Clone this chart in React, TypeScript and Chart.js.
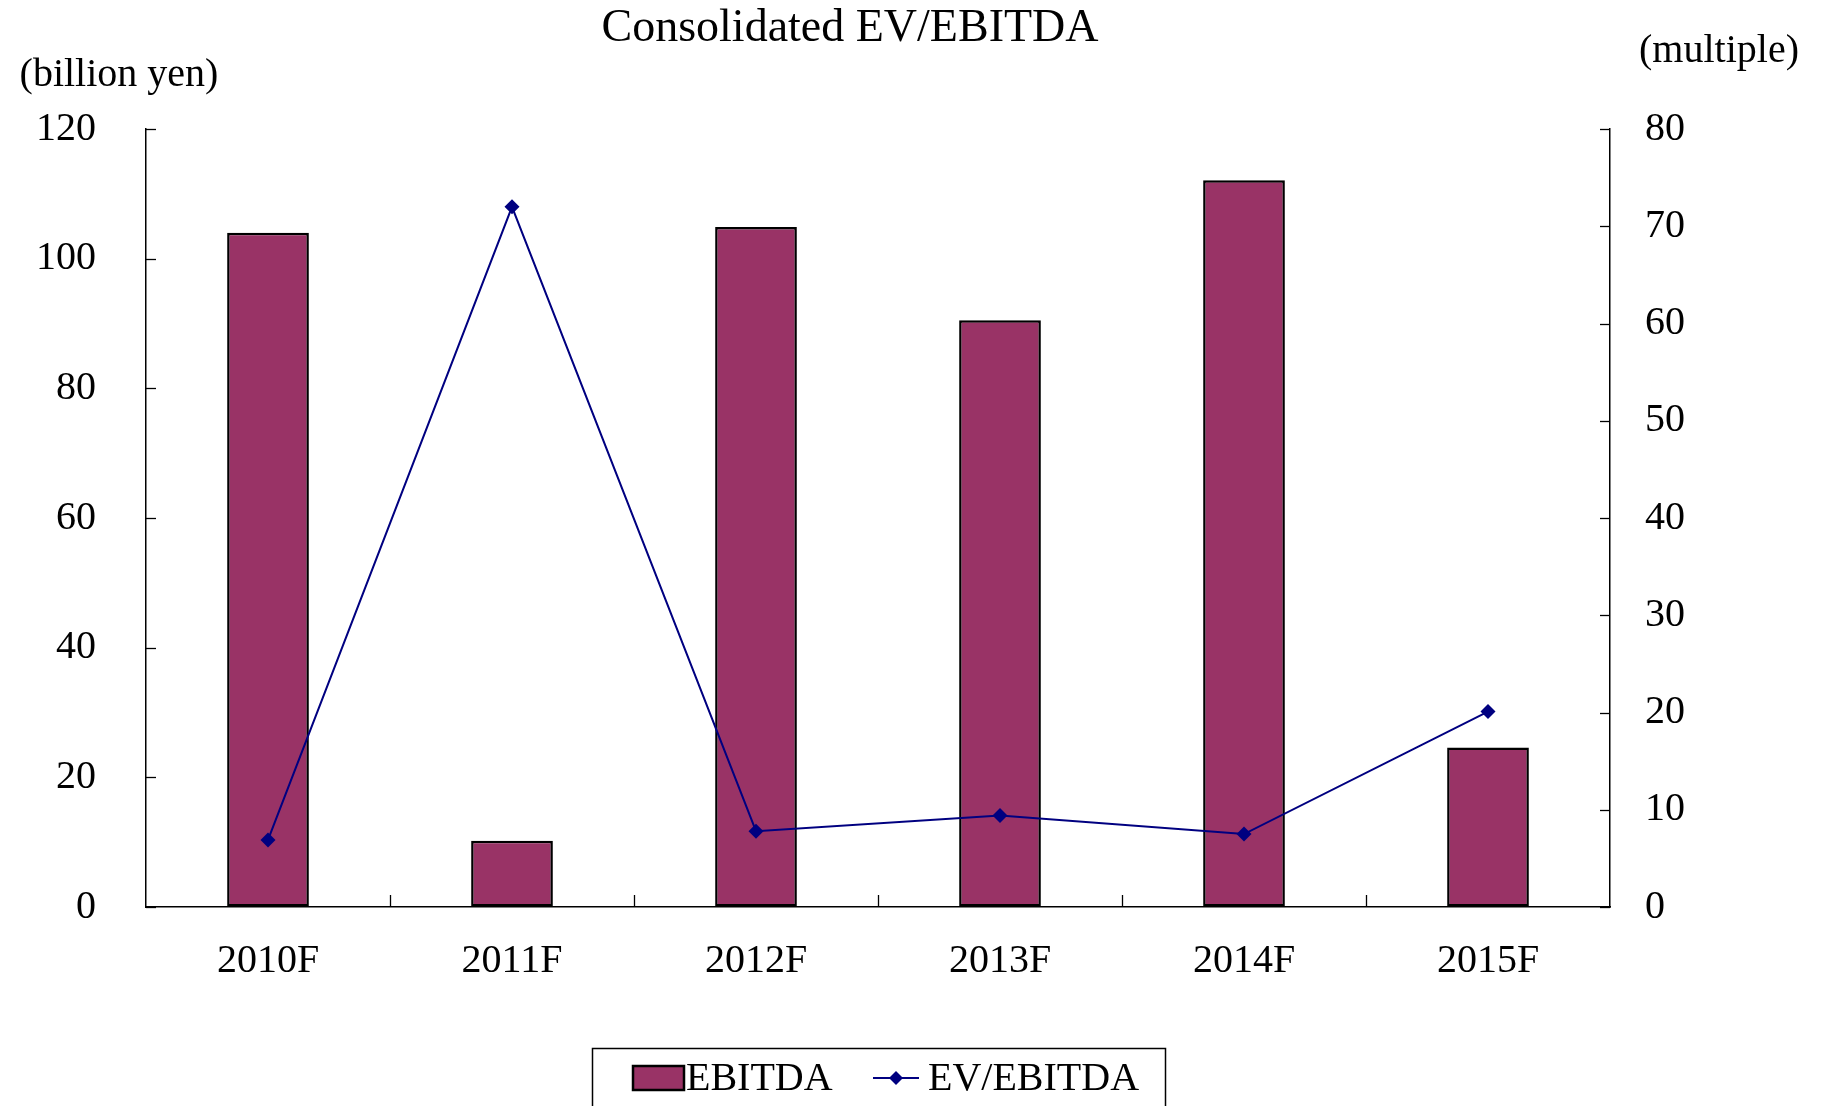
import React, { useEffect, useRef } from "react";
import { Chart, registerables } from "chart.js";

Chart.register(...registerables);

const categories = ["2010F", "2011F", "2012F", "2013F", "2014F", "2015F"];
const ebitdaValues = [104.0, 10.2, 104.9, 90.5, 112.1, 24.6];
const evEbitdaValues = [6.9, 72.0, 7.8, 9.4, 7.5, 20.1];
const leftAxisMax = 120;
const leftAxisStep = 20;
const rightAxisMax = 80;
const rightAxisStep = 10;
const titleText = "Consolidated EV/EBITDA";
const leftUnitText = "(billion yen)";
const rightUnitText = "(multiple)";
const seriesLabels = ["EBITDA", "EV/EBITDA"];

const BAR_COLOR = "#993366";
const LINE_COLOR = "#000080";
const FONT = "'Liberation Serif', 'Times New Roman', serif";

const decorPlugin = {
  id: "decor",
  afterDraw(chart: any) {
    const ctx = chart.ctx as CanvasRenderingContext2D;
    const { left, right, bottom } = chart.chartArea;
    ctx.save();
    // inward tick marks
    ctx.strokeStyle = "#000";
    ctx.lineWidth = 1.3;
    const yL = chart.scales.y;
    yL.ticks.forEach((_: any, i: number) => {
      const py = Math.round(yL.getPixelForTick(i)) + 0.5;
      ctx.beginPath();
      ctx.moveTo(left, py);
      ctx.lineTo(left + 10, py);
      ctx.stroke();
    });
    const yR = chart.scales.y1;
    yR.ticks.forEach((_: any, i: number) => {
      const py = Math.round(yR.getPixelForTick(i)) + 0.5;
      ctx.beginPath();
      ctx.moveTo(right - 10, py);
      ctx.lineTo(right, py);
      ctx.stroke();
    });
    const xs = chart.scales.x;
    for (let i = 0; i < categories.length - 1; i++) {
      const px = Math.round((xs.getPixelForTick(i) + xs.getPixelForTick(i + 1)) / 2) + 0.5;
      ctx.beginPath();
      ctx.moveTo(px, bottom);
      ctx.lineTo(px, bottom - 12);
      ctx.stroke();
    }

    // title and unit labels
    ctx.fillStyle = "#000";
    ctx.textBaseline = "middle";
    ctx.textAlign = "center";
    ctx.font = `46px ${FONT}`;
    ctx.fillText(titleText, 850, 29);
    ctx.font = `40px ${FONT}`;
    ctx.fillText(leftUnitText, 119, 75);
    ctx.fillText(rightUnitText, 1719, 51);

    // legend
    const ds = chart.data.datasets;
    ctx.lineWidth = 1.5;
    ctx.strokeStyle = "#000";
    ctx.strokeRect(592.5, 1048.5, 573, 80);
    ctx.fillStyle = BAR_COLOR;
    ctx.fillRect(633, 1066, 51, 24);
    ctx.lineWidth = 2.5;
    ctx.strokeRect(633, 1066, 51, 24);
    ctx.fillStyle = "#000";
    ctx.textAlign = "left";
    ctx.font = `40px ${FONT}`;
    ctx.fillText(ds[0].label, 686, 1079);
    ctx.strokeStyle = LINE_COLOR;
    ctx.lineWidth = 2;
    ctx.beginPath();
    ctx.moveTo(873, 1078);
    ctx.lineTo(919, 1078);
    ctx.stroke();
    ctx.fillStyle = LINE_COLOR;
    ctx.beginPath();
    ctx.moveTo(896, 1071);
    ctx.lineTo(903, 1078);
    ctx.lineTo(896, 1085);
    ctx.lineTo(889, 1078);
    ctx.closePath();
    ctx.fill();
    ctx.fillStyle = "#000";
    ctx.fillText(ds[1].label, 928, 1079);
    ctx.restore();
  },
};

export default function App() {
  const canvasRef = useRef<HTMLCanvasElement | null>(null);

  useEffect(() => {
    document.body.style.margin = "0";
    document.body.style.overflow = "hidden";
    const canvas = canvasRef.current;
    if (!canvas) return;
    const tickFont = { family: FONT, size: 40 };
    const chart = new Chart(canvas, {
      type: "bar",
      data: {
        labels: categories,
        datasets: [
          {
            type: "bar",
            label: seriesLabels[0],
            data: ebitdaValues,
            backgroundColor: BAR_COLOR,
            borderColor: "#000",
            borderWidth: 2.5,
            borderSkipped: false,
            barPercentage: 0.335,
            categoryPercentage: 1,
            yAxisID: "y",
            order: 1,
          },
          {
            type: "line",
            label: seriesLabels[1],
            data: evEbitdaValues,
            borderColor: LINE_COLOR,
            backgroundColor: LINE_COLOR,
            borderWidth: 2,
            pointStyle: "rectRot",
            pointRadius: 7.5,
            pointBorderWidth: 0,
            tension: 0,
            yAxisID: "y1",
            order: 0,
          },
        ],
      } as any,
      options: {
        responsive: false,
        animation: false,
        layout: { padding: { top: 129, left: 0, right: 0, bottom: 0 } },
        plugins: {
          legend: { display: false },
          title: { display: false },
          tooltip: { enabled: false },
        },
        scales: {
          x: {
            offset: true,
            grid: { display: true, drawOnChartArea: false, drawTicks: false, offset: true },
            border: { display: true, color: "#000", width: 1.5 },
            ticks: { color: "#000", font: tickFont, padding: 30, maxRotation: 0 },
            afterFit: (s: any) => {
              s.height = 199;
            },
          },
          y: {
            position: "left",
            min: 0,
            max: leftAxisMax,
            ticks: { stepSize: leftAxisStep, color: "#000", font: tickFont, padding: 50 },
            grid: { display: true, drawOnChartArea: false, drawTicks: false },
            border: { display: true, color: "#000", width: 1.5 },
            afterFit: (s: any) => {
              s.width = 146;
            },
          },
          y1: {
            position: "right",
            min: 0,
            max: rightAxisMax,
            ticks: { stepSize: rightAxisStep, color: "#000", font: tickFont, padding: 35 },
            grid: { display: true, drawOnChartArea: false, drawTicks: false },
            border: { display: true, color: "#000", width: 1.5 },
            afterFit: (s: any) => {
              s.width = 215;
            },
          },
        },
      } as any,
      plugins: [decorPlugin],
    });
    return () => chart.destroy();
  }, []);

  return (
    <div style={{ width: 1825, height: 1106, background: "#fff" }}>
      <canvas ref={canvasRef} width={1825} height={1106} style={{ display: "block" }} />
    </div>
  );
}
